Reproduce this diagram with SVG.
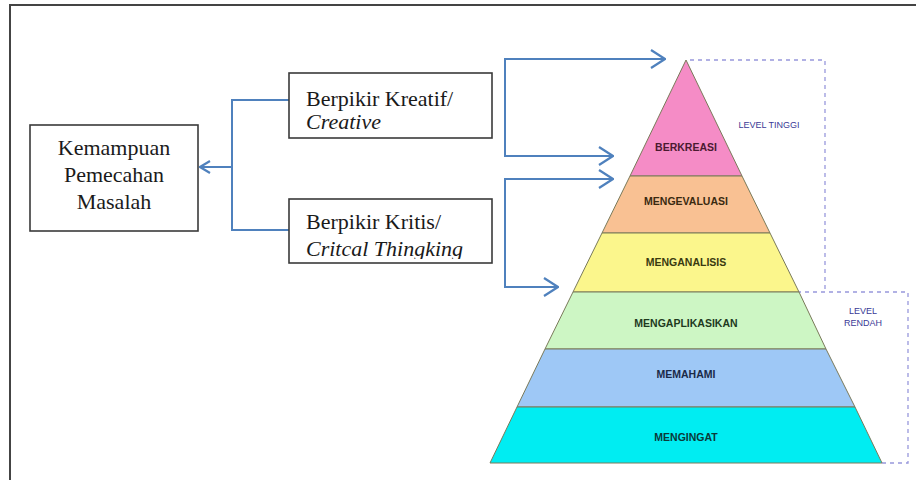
<svg xmlns="http://www.w3.org/2000/svg" width="916" height="480" viewBox="0 0 916 480">
<style>
.box{fill:#fff;stroke:#3a3a3a;stroke-width:1.6}
.serif{font-family:"Liberation Serif","Times New Roman",serif;font-size:22px;fill:#1a1a1a}
.conn{fill:none;stroke:#4f81bd;stroke-width:2}
.lvl{font-family:"Liberation Sans",Arial,sans-serif;font-weight:bold;font-size:10.5px;text-anchor:middle}
.side{font-family:"Liberation Sans",Arial,sans-serif;font-size:9px;fill:#3a3a96;text-anchor:middle}
.dash{fill:none;stroke:#9898dc;stroke-width:1.3;stroke-dasharray:4 4}
.layer{stroke:#7a7a5a;stroke-width:1}
</style>
<defs>
<marker id="arr" viewBox="0 0 16 20" refX="15" refY="10" markerWidth="16" markerHeight="20" markerUnits="userSpaceOnUse" orient="auto">
<path d="M1,1 L15,10 L1,19" fill="none" stroke="#4f81bd" stroke-width="2.2"/>
</marker>
<marker id="arrs" viewBox="0 0 12 14" refX="11" refY="7" markerWidth="12" markerHeight="14" markerUnits="userSpaceOnUse" orient="auto">
<path d="M1,1 L11,7 L1,13" fill="none" stroke="#4f81bd" stroke-width="2.2"/>
</marker>
<clipPath id="clipK"><rect x="289" y="199" width="202" height="60"/></clipPath>
</defs>
<rect width="916" height="480" fill="#fff"/>
<path d="M10,480 L10,5 L916,5" fill="none" stroke="#444" stroke-width="2"/>

<g id="connectors">
<path class="conn" d="M289,100 L232,100 L232,230 L289,230"/>
<path class="conn" d="M232,167 L200,167" marker-end="url(#arrs)"/>
<path class="conn" d="M665,59 L505,59 L505,156 L613,156" marker-end="url(#arr)"/>
<path class="conn" d="M505,59 L665,59" marker-end="url(#arr)"/>
<path class="conn" d="M613,179 L505,179 L505,287 L558,287" marker-end="url(#arr)"/>
<path class="conn" d="M505,179 L613,179" marker-end="url(#arr)"/>
</g>

<g id="kemampuan">
<rect class="box" x="30" y="125" width="168" height="106"/>
<text class="serif" text-anchor="middle" x="114" y="155">Kemampuan</text>
<text class="serif" text-anchor="middle" x="114" y="182">Pemecahan</text>
<text class="serif" text-anchor="middle" x="114" y="209">Masalah</text>
</g>

<g id="kreatif">
<rect class="box" x="289" y="73" width="203" height="65"/>
<text class="serif" x="306" y="106">Berpikir Kreatif/</text>
<text class="serif" x="306" y="129" font-style="italic">Creative</text>
</g>

<g id="kritis">
<rect class="box" x="289" y="199" width="203" height="64"/>
<g clip-path="url(#clipK)">
<text class="serif" x="306" y="229">Berpikir Kritis/</text>
<text class="serif" x="306" y="256" font-style="italic">Critcal Thingking</text>
</g>
</g>

<g id="dashes">
<path class="dash" d="M690,60 L825,60 L825,292"/>
<path class="dash" d="M797,292 L908,292 L908,463 L882,463"/>
</g>

<g id="berkreasi">
<polygon class="layer" points="686,60 742,176 630,176" fill="#f58cc6"/>
<text class="lvl" x="686" y="151" fill="#4a1a30">BERKREASI</text>
</g>
<g id="mengevaluasi">
<polygon class="layer" points="630,176 742,176 770,233 602,233" fill="#f9c193"/>
<text class="lvl" x="686" y="205" fill="#3a2a10">MENGEVALUASI</text>
</g>
<g id="menganalisis">
<polygon class="layer" points="602,233 770,233 799,292 573,292" fill="#fbf68c"/>
<text class="lvl" x="686" y="266" fill="#3a3a10">MENGANALISIS</text>
</g>
<g id="mengaplikasikan">
<polygon class="layer" points="573,292 799,292 826,349 545,349" fill="#cdf6c4"/>
<text class="lvl" x="686" y="327" fill="#1e3a1e">MENGAPLIKASIKAN</text>
</g>
<g id="memahami">
<polygon class="layer" points="545,349 826,349 855,407 517,407" fill="#9ec8f6"/>
<text class="lvl" x="686" y="378" fill="#1a2a48">MEMAHAMI</text>
</g>
<g id="mengingat">
<polygon class="layer" points="517,407 855,407 882,463 490,463" fill="#00edf2"/>
<text class="lvl" x="686" y="441" fill="#0a3a3a">MENGINGAT</text>
</g>

<g id="level-tinggi">
<text class="side" x="769" y="128">LEVEL TINGGI</text>
</g>
<g id="level-rendah">
<text class="side" x="863" y="314">LEVEL</text>
<text class="side" x="863" y="326">RENDAH</text>
</g>
</svg>
